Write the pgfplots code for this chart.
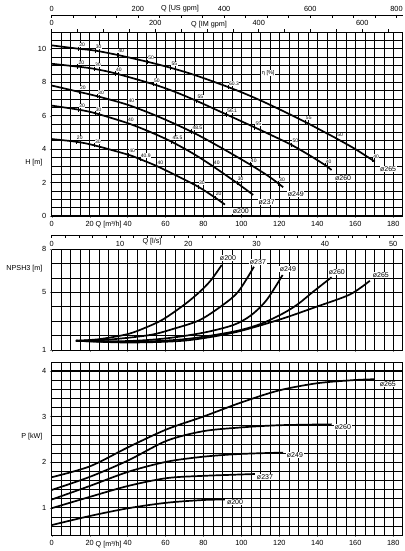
\documentclass[border=0pt]{standalone}
\usepackage{fontspec}
\setmainfont{Liberation Sans}
\usepackage{pgfplots}
\pgfplotsset{compat=1.18}
\tikzset{dlab/.style={font=\fontsize{7}{8}\selectfont, fill=white, inner sep=0.6pt}}
\pgfplotsset{
  panel/.style={scale only axis, width=351pt, xmin=0, xmax=185, anchor=south west,
    axis line style={line width=0.8pt},
    tick label style={font=\fontsize{7.4}{8}\selectfont},
    /pgf/number format/assume math mode=true,
    /pgf/number format/1000 sep={},
    xtick={0,20,...,180}, minor xtick={5,10,...,185},
    grid=both,
    major grid style={black, line width=1.1pt},
    minor grid style={black, line width=0.45pt},
    tick align=outside, major tick length=2pt, minor tick length=0pt,
    xtick pos=bottom, ytick pos=left, clip=false},
  curve/.style={black, line width=1.7pt, smooth, no marks},
  effm/.style={only marks, mark=|, mark size=2.2pt, mark options={black, line width=0.6pt},
    point meta=explicit symbolic, nodes near coords,
    nodes near coords style={font=\fontsize{5}{5.5}\selectfont, fill=white, inner sep=0.4pt,
      anchor=south west, xshift=0.3pt, yshift=1.2pt, text=black}},
}
\begin{document}
\begin{tikzpicture}
\useasboundingbox (0,0) rectangle (404pt,551pt);
% ---------------- H panel ----------------
\begin{axis}[panel, height=184pt, at={(51.7pt,335pt)},
  ymin=0, ymax=11, ytick={0,2,...,10}, minor ytick={0.5,1,...,11}]
\addplot[curve] coordinates {(0,10.2)(14,10.0)(22.8,9.89)(34.6,9.63)(50.4,9.22)(62.7,8.86)(75,8.44)(88.7,7.89)(100,7.4)(111,6.86)(122,6.27)(134,5.6)(144,5.0)(150,4.64)(160,4.0)(170.3,3.25)};
\addplot[curve] coordinates {(0,9.1)(13.7,8.93)(22.3,8.8)(33.4,8.53)(53.5,7.88)(65,7.42)(76.4,6.88)(89.6,6.2)(105.4,5.38)(116,4.82)(126.4,4.25)(136,3.62)(144,3.05)(147.5,2.75)};
\addplot[curve] coordinates {(0,7.8)(14.4,7.42)(24,7.16)(40,6.65)(56,5.95)(73.7,5.04)(88.7,4.12)(104.5,3.08)(114,2.4)(119.4,1.95)(122,1.72)};
\addplot[curve] coordinates {(0,6.6)(14,6.36)(22.8,6.15)(39.8,5.56)(52,5.02)(63.2,4.44)(75,3.7)(85,2.97)(97.6,1.98)(106.2,1.26)};
\addplot[curve] coordinates {(0,4.6)(12.8,4.44)(22.3,4.23)(40.4,3.66)(46.5,3.4)(55.3,2.99)(66,2.4)(77.2,1.75)(86,1.11)(91.3,0.68)};
\addplot[effm] coordinates {(14,10.0)[20] (22.8,9.89)[30] (34.6,9.63)[40] (50.4,9.22)[50] (62.7,8.86)[55] (93,7.7)[60.3] (133.5,5.63)[55] (150,4.64)[50] (169,3.35)[40]};
\addplot[effm] coordinates {(13.7,8.93)[20] (22.3,8.8)[30] (33.4,8.53)[40] (53.5,7.88)[50] (76.4,6.88)[55] (92,6.07)[56.1] (107,5.3)[55] (126.4,4.25)[50] (144,3.05)[40]};
\addplot[effm] coordinates {(14.4,7.42)[20] (24,7.16)[30] (40,6.65)[40] (73.7,5.04)[48.5] (104.5,3.08)[40] (119.4,1.95)[30]};
\addplot[effm] coordinates {(14,6.36)[20] (22.8,6.15)[30] (39.8,5.56)[40] (63.2,4.44)[45.5] (85,2.97)[40] (97.6,1.98)[30]};
\addplot[effm] coordinates {(12.8,4.44)[20] (22.3,4.23)[30] (40.4,3.66)[40] (46.5,3.4)[40.9] (55.3,2.99)[40] (77.2,1.75)[30] (86,1.11)[20]};
\node[dlab] at (axis cs:99.7,0.3) {ø200};
\node[dlab] at (axis cs:113.3,0.82) {ø237};
\node[dlab] at (axis cs:128.7,1.3) {ø249};
\node[dlab] at (axis cs:153.6,2.26) {ø260};
\node[dlab] at (axis cs:177.3,2.8) {ø265};
\node[font=\fontsize{5.5}{6}\selectfont, fill=white, inner sep=0.5pt] at (axis cs:114.1,8.54) {η [\%]};
\end{axis}
% IM gpm axis (top of H panel)
\begin{axis}[scale only axis, width=351pt, height=184pt, at={(51.7pt,335pt)}, anchor=south west,
  xmin=0, xmax=678.2, ymin=0, ymax=1, axis x line*=top, hide y axis,
  axis line style={line width=0.8pt},
  xtick={0,200,400,600}, minor xtick={50,100,...,650},
  tick align=outside, major tick length=2.5pt, minor tick length=2.5pt,
  tick style={black, line width=0.5pt},
  tick label style={font=\fontsize{7.4}{8}\selectfont},
  /pgf/number format/assume math mode=true]
\end{axis}
% US gpm axis
\begin{axis}[scale only axis, width=351pt, height=1pt, at={(51.7pt,535pt)}, anchor=south west,
  xmin=0, xmax=814.5, ymin=0, ymax=1, axis x line*=top, hide y axis,
  axis line style={line width=0.6pt},
  xtick={0,200,...,800}, minor xtick={50,100,...,800},
  xtick align=inside, major tick length=3pt, minor tick length=3pt,
  tick style={black, line width=0.5pt},
  tick label style={font=\fontsize{7.4}{8}\selectfont},
  /pgf/number format/assume math mode=true]
\end{axis}
% l/s axis
\begin{axis}[scale only axis, width=351pt, height=1pt, at={(51.7pt,316pt)}, anchor=south west,
  xmin=0, xmax=51.39, ymin=0, ymax=1, axis x line*=bottom, hide y axis,
  axis line style={line width=0.6pt},
  xtick={0,10,...,50}, minor xtick={2,4,...,50},
  xtick align=outside, major tick length=3pt, minor tick length=3pt,
  tick style={black, line width=0.5pt},
  tick label style={font=\fontsize{7.4}{8}\selectfont},
  /pgf/number format/assume math mode=true]
\end{axis}
% ---------------- NPSH panel ----------------
\begin{axis}[panel, height=101pt, at={(51.7pt,201pt)},
  ymin=1, ymax=8, ytick={5}, minor ytick={2,3,4,6,7},
  extra y ticks={1,8}, extra y tick style={grid=none},
  xticklabels={}]
\addplot[curve] coordinates {(12.8,1.64)(25,1.75)(40,2.1)(50,2.58)(58.8,3.13)(70,4.15)(78.1,5.04)(84,5.85)(89.6,6.89)};
\addplot[curve] coordinates {(12.8,1.64)(30,1.72)(51.8,2.04)(65,2.5)(78.1,3.08)(90,4.1)(98.3,5.04)(106.6,6.77)};
\addplot[curve] coordinates {(12.8,1.64)(40,1.62)(60.6,1.81)(80,2.2)(95.7,2.73)(105,3.4)(113.3,4.47)(121.7,6.2)};
\addplot[curve] coordinates {(12.8,1.64)(40,1.55)(70,1.75)(95.7,2.27)(110,2.8)(122,3.54)(130,4.2)(137.8,5.04)(147.5,6.04)};
\addplot[curve] coordinates {(12.8,1.64)(40,1.52)(70,1.65)(95.7,2.2)(119.4,3.08)(139.6,4.0)(157.2,4.85)(167.7,5.8)};
\node[dlab] at (axis cs:92.9,7.35) {ø200};
\node[dlab] at (axis cs:108.7,7.12) {ø237};
\node[dlab] at (axis cs:124.5,6.59) {ø249};
\node[dlab] at (axis cs:150.3,6.43) {ø260};
\node[dlab] at (axis cs:173.5,6.2) {ø265};
\end{axis}
% ---------------- P panel ----------------
\begin{axis}[panel, height=173.2pt, at={(51.7pt,15.9pt)},
  ymin=0.4, ymax=4.2, ytick={1,2,3,4}, minor ytick={0.6,0.8,1.2,1.4,1.6,1.8,2.2,2.4,2.6,2.8,3.2,3.4,3.6,3.8,4.2}]
\addplot[curve] coordinates {(0,1.67)(20.2,1.91)(40.4,2.33)(60.6,2.72)(79.9,3.0)(99.2,3.3)(119.4,3.57)(139.6,3.73)(158.9,3.8)(170.3,3.82)};
\addplot[curve] coordinates {(0,1.39)(20.2,1.68)(40.4,2.04)(60.6,2.47)(79.9,2.68)(99.2,2.76)(119.4,2.81)(147.5,2.83)};
\addplot[curve] coordinates {(0,1.18)(20.2,1.48)(40.4,1.79)(60.6,2.01)(79.9,2.12)(99.2,2.18)(122,2.21)};
\addplot[curve] coordinates {(0,0.99)(20.2,1.24)(40.4,1.48)(60.6,1.65)(79.9,1.70)(107.1,1.74)};
\addplot[curve] coordinates {(0,0.62)(20.2,0.82)(40.4,0.99)(60.6,1.11)(79.9,1.17)(91.3,1.18)};
\node[dlab] at (axis cs:177.2,3.71) {ø265};
\node[dlab] at (axis cs:153.5,2.78) {ø260};
\node[dlab] at (axis cs:128.2,2.16) {ø249};
\node[dlab] at (axis cs:112.4,1.67) {ø237};
\node[dlab] at (axis cs:96.6,1.13) {ø200};
\end{axis}
% axis titles
\node[font=\fontsize{7.2}{8}\selectfont, fill=white, inner sep=0.5pt] at (180pt,542pt) {Q [US gpm]};
\node[font=\fontsize{7.2}{8}\selectfont, fill=white, inner sep=0.5pt] at (209pt,526pt) {Q [IM gpm]};
\node[font=\fontsize{7.2}{8}\selectfont, anchor=east] at (46pt,388pt) {H [m]};
\node[font=\fontsize{7.2}{8}\selectfont, anchor=east] at (46pt,282pt) {NPSH3 [m]};
\node[font=\fontsize{7.2}{8}\selectfont, anchor=east] at (46pt,114pt) {P [kW]};
\node[font=\fontsize{7.2}{8}\selectfont, inner sep=0.5pt] at (108.7pt,326pt) {Q [m³/h]};
\node[font=\fontsize{7.2}{8}\selectfont, fill=white, inner sep=0.5pt] at (152pt,309pt) {Q [l/s]};
\node[font=\fontsize{7.2}{8}\selectfont, inner sep=0.5pt] at (108.7pt,6pt) {Q [m³/h]};
\end{tikzpicture}
\end{document}
